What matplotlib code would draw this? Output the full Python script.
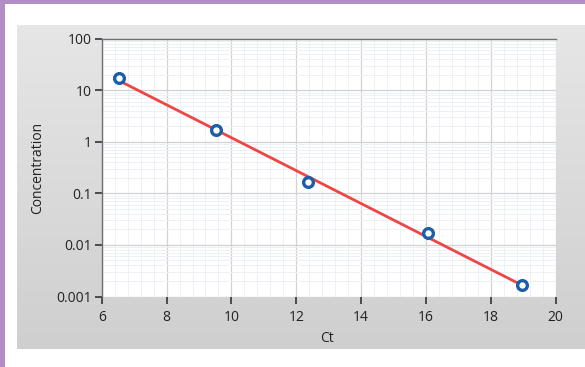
import numpy as np
import matplotlib
matplotlib.use("Agg")
from matplotlib import pyplot as plt
from matplotlib.ticker import MultipleLocator, LogLocator, FixedLocator, NullFormatter

# standard curve: Ct vs concentration
ct = [6.53, 9.52, 12.36, 16.05, 18.95]
conc = [17.0, 1.7, 0.165, 0.0167, 0.00165]

x_ticks = [6, 8, 10, 12, 14, 16, 18, 20]
y_ticks = [0.001, 0.01, 0.1, 1, 10, 100]
y_labels = ["0.001", "0.01", "0.1", "1", "10", "100"]

plt.rcParams['font.family'] = ['Open Sans', 'DejaVu Sans']

fig = plt.figure(figsize=(5.85, 3.67), dpi=100)
fig.patch.set_facecolor("white")

# purple frame on the left and top
fig.add_artist(plt.Rectangle((0, 0), 5 / 585, 1, transform=fig.transFigure,
                             color="#b38dc5", lw=0, zorder=0))
fig.add_artist(plt.Rectangle((0, 1 - 4 / 367), 1, 4 / 367, transform=fig.transFigure,
                             color="#b38dc5", lw=0, zorder=0))

# gray panel behind the chart, lighter at the top
grad = np.linspace(0, 1, 100).reshape(-1, 1)
bg = fig.add_axes([17 / 585, 1 - 349 / 367, 1 - 17 / 585, (349 - 25) / 367], zorder=0)
bg.imshow(grad, aspect="auto", cmap=matplotlib.colors.LinearSegmentedColormap.from_list(
    "panel", ["#e6e6e6", "#cfcfcf"]), extent=[0, 1, 0, 1], origin="upper")
bg.axis("off")

ax = fig.add_axes([101.7 / 585, 1 - 296.5 / 367, (555.7 - 101.7) / 585, (296.5 - 38.7) / 367],
                  zorder=1)
ax.set_facecolor("white")
ax.set_yscale("log")
ax.set_xlim(6, 20)
ax.set_ylim(0.001, 100)

ax.xaxis.set_major_locator(FixedLocator(x_ticks))
ax.xaxis.set_minor_locator(MultipleLocator(0.4))
ax.yaxis.set_major_locator(FixedLocator(y_ticks))
ax.yaxis.set_minor_locator(LogLocator(base=10, subs=np.arange(2, 10)))
ax.yaxis.set_minor_formatter(NullFormatter())
ax.set_yticklabels(y_labels)

ax.grid(which="major", color="#d2d2d2", lw=0.9)
ax.grid(which="minor", color="#edf1f5", lw=0.7)
ax.set_axisbelow(True)

for side in ["bottom", "right"]:
    ax.spines[side].set_visible(False)
ax.spines["left"].set_color("#707070")
ax.spines["top"].set_color("#707070")
ax.spines["left"].set_linewidth(1.0)
ax.spines["top"].set_linewidth(1.0)

ax.tick_params(which="major", direction="out", length=5, width=1.2, color="#333333",
               labelsize=10, labelcolor="#222222")
ax.tick_params(axis="x", which="major", pad=5)
ax.tick_params(axis="y", which="major", pad=2)
ax.tick_params(which="minor", length=0)

# log-linear fit through the points
slope, intercept = np.polyfit(ct, np.log10(conc), 1)
fx = np.array([ct[0], ct[-1]])
ax.plot(fx, 10 ** (slope * fx + intercept), color="#f04545", lw=2.0, zorder=3)
ax.plot(ct, conc, "o", ms=7, mfc="white", mec="#1c5ea8", mew=2.4, zorder=4)

ax.set_xlabel("Ct", fontsize=10, color="#222222")
ax.set_ylabel("Concentration", fontsize=10, color="#222222")
ax.xaxis.set_label_coords(0.497, -0.135)
ax.yaxis.set_label_coords(-0.125, 0.5)

fig.savefig("out.png", dpi=100)
